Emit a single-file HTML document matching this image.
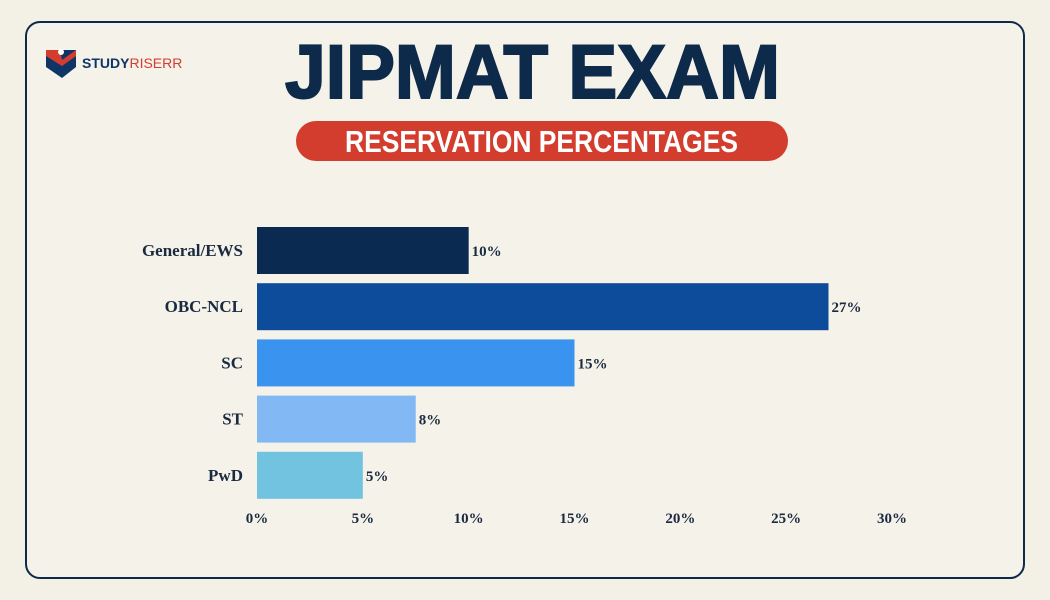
<!DOCTYPE html>
<html><head><meta charset="utf-8"><style>
html,body{margin:0;padding:0;background:#f3f0e6;}
svg{display:block;}
</style></head><body>
<svg id="chart" width="1050" height="600" viewBox="0 0 1050 600" xmlns="http://www.w3.org/2000/svg">
<rect x="0" y="0" width="1050" height="600" fill="#f3f0e6"/>
<rect x="26" y="22" width="998" height="556" rx="14" fill="#f5f2e9" stroke="#0d2a4a" stroke-width="2"/>
<g>
<path d="M46 50 L76 50 L76 67 L62 78 L46 67 Z" fill="#0f3466"/>
<path d="M46 50 L60 50 L62 60 L76 50 L76 56 L62 66 L46 56 Z" fill="#d33d2e"/>
<circle cx="61" cy="52" r="3" fill="#fff"/>
<text x="82" y="68" font-family="Liberation Sans, sans-serif" font-size="14" font-weight="bold" fill="#0f3466">STUDY<tspan fill="#d33d2e" font-weight="normal">RISERR</tspan></text>
</g>
<text x="285" y="98" textLength="495" lengthAdjust="spacingAndGlyphs" font-family="Liberation Sans, sans-serif" font-size="76" font-weight="bold" fill="#0d2a4a" stroke="#0d2a4a" stroke-width="2">JIPMAT EXAM</text>
<rect x="296" y="121" width="492" height="40" rx="20" fill="#d33d2e"/>
<text x="345" y="152" textLength="393" lengthAdjust="spacingAndGlyphs" font-family="Liberation Sans, sans-serif" font-size="31" font-weight="bold" fill="#ffffff">RESERVATION PERCENTAGES</text>
<g id="plot"></g>
</svg>
<script>
const categories = ["General/EWS","OBC-NCL","SC","ST","PwD"];
const values = [10,27,15,7.5,5];
const tickValues = [0,5,10,15,20,25,30];
const colors = ["#0b2a52","#0c4c9b","#3a94ef","#82b9f4","#72c3e0"];
const x0=257, pxPerUnit=(892-257)/30;
function xs(v){return x0+v*pxPerUnit;}
function ys(i){return 227+i*56.2;}
const NS="http://www.w3.org/2000/svg";
const g=document.getElementById('plot');
function mk(tag,attrs,txt){const e=document.createElementNS(NS,tag);for(const k in attrs)e.setAttribute(k,attrs[k]);if(txt!==undefined)e.textContent=txt;g.appendChild(e);return e;}
const font="Liberation Serif, serif";
categories.forEach((c,i)=>{
  const b=mk('rect',{x:xs(0),y:ys(i),width:xs(values[i])-xs(0),height:47,fill:colors[i]});
  
  
  const l=mk('text',{x:243,y:ys(i)+29,'text-anchor':'end','font-family':font,'font-size':17,'font-weight':'bold',fill:'#1a2a40'},c);
  
  
  const v=mk('text',{x:xs(values[i])+3,y:ys(i)+29,'font-family':font,'font-size':15,'font-weight':'bold',fill:'#1a2a40'},Math.round(values[i])+'%');
  
  
});
tickValues.forEach(t=>{
  const tl=mk('text',{x:xs(t),y:523,'text-anchor':'middle','font-family':font,'font-size':15,'font-weight':'bold',fill:'#1a2a40'},t+'%');
  
  
});
</script>
</body></html>
